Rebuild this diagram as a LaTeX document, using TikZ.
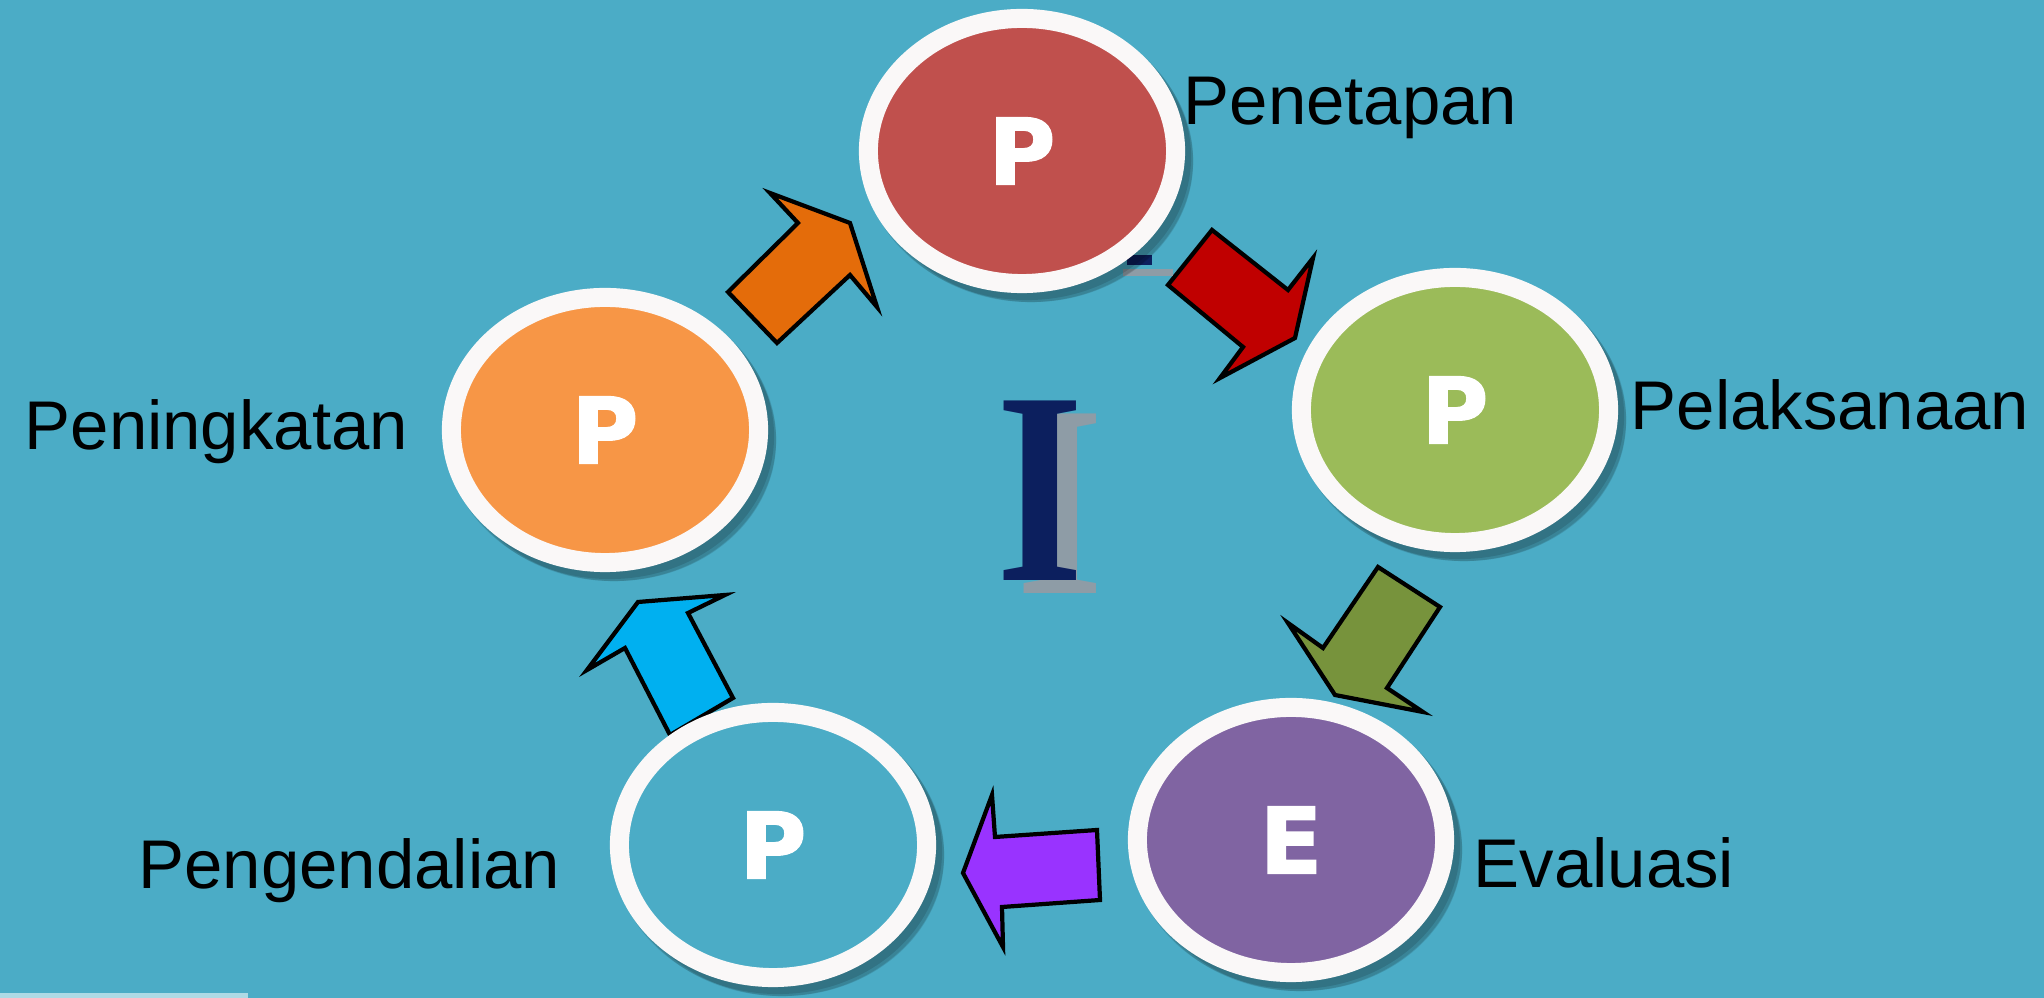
\documentclass[tikz,border=0pt]{standalone}
\usepackage{fontspec}
\setmainfont{Liberation Sans}
\newfontfamily\letterfont{DejaVu Sans}[BoldFeatures={FakeBold=1.6}]
\newfontfamily\seriffont{Liberation Serif}
\usetikzlibrary{shapes.geometric}
\definecolor{bgc}{HTML}{4BACC6}
\definecolor{ringc}{HTML}{FAF8F8}
\definecolor{redc}{HTML}{C0504D}
\definecolor{greenc}{HTML}{9BBB59}
\definecolor{purplec}{HTML}{8064A2}
\definecolor{orangec}{HTML}{F79646}
\definecolor{arrorange}{HTML}{E46C0A}
\definecolor{arrred}{HTML}{C00000}
\definecolor{arrgreen}{HTML}{77933C}
\definecolor{arrpurple}{HTML}{9933FF}
\definecolor{arrblue}{HTML}{00B0F0}
\definecolor{navyc}{HTML}{0C1F5E}
\definecolor{greyc}{HTML}{8E9CA6}
\tikzset{
  ringnode/.style={ellipse, minimum width=3.07cm, minimum height=2.65cm, inner sep=0pt,
    draw=ringc, line width=0.19cm, text=white,
    font=\letterfont\bfseries\fontsize{26pt}{26pt}\selectfont},
  shadowc/.style={fill=black, opacity=0.12},
  blockarrow/.style={draw=black, line width=1.2pt, line join=miter},
  label/.style={anchor=base west, inner sep=0pt, text=black,
    font=\fontsize{19.6pt}{23pt}\selectfont},
  bigI/.style={inner sep=0pt, font=\seriffont\bfseries\fontsize{78pt}{78pt}\selectfont}
}
\begin{document}
\begin{tikzpicture}[x=0.01cm,y=-0.01cm]
\fill[bgc] (0,0) rectangle (2044,998);
\useasboundingbox (0,0) rectangle (2044,998);
\fill[bgc!45!white] (0,993) rectangle (248,998);

% block arrows
\draw[blockarrow, fill=arrorange] (728,292) -- (798,223) -- (770,193) -- (850,223) -- (877,307) -- (850,275) -- (777,343) -- cycle;
\draw[blockarrow, fill=arrred] (1212,230) -- (1288,290) -- (1313,258) -- (1295,338) -- (1220,378) -- (1243,347) -- (1168,285) -- cycle;
\draw[blockarrow, fill=arrgreen] (1378,567) -- (1440,607) -- (1387,688) -- (1423,712) -- (1335,695) -- (1288,623) -- (1323,648) -- cycle;
\draw[blockarrow, fill=arrpurple] (1097,830) -- (1100,900) -- (1002,907) -- (1003,947) -- (963,873) -- (992,795) -- (995,837) -- cycle;
\draw[blockarrow, fill=arrblue] (733,698) -- (670,735) -- (625,648) -- (587,670) -- (638,602) -- (725,595) -- (688,613) -- cycle;

% small hidden I remnants near the top ellipse
\fill[greyc] (1123,269) rectangle (1173,276);
\fill[navyc] (1127,255) rectangle (1152,265);

% shadows
\foreach \cx/\cy in {1022/151, 1455/410, 1291/840, 773/845, 605/430} {
  \fill[shadowc] (\cx+5,\cy+6) ellipse [x radius=1.64cm, y radius=1.43cm];
  \fill[shadowc] (\cx+8,\cy+9) ellipse [x radius=1.63cm, y radius=1.42cm];
  \fill[shadowc] (\cx+10,\cy+11) ellipse [x radius=1.61cm, y radius=1.40cm];
}

% ellipses
\node[ringnode, fill=redc] (pen) at (1022,151) {P};
\node[ringnode, fill=greenc] (pel) at (1455,410) {P};
\node[ringnode, fill=purplec] (eva) at (1291,840) {E};
\node[ringnode, fill=bgc] (peng) at (773,845) {P};
\node[ringnode, fill=orangec] (peni) at (605,430) {P};

% labels
\node[label] (lpen) at (1183,125) {Penetapan};
\node[label] (lpel) at (1630,430) {Pelaksanaan};
\node[label] (leva) at (1473,888) {Evaluasi};
\node[label] (lpeng) at (138,889) {Pengendalian};
\node[label] (lpeni) at (24,450) {Peningkatan};

% central I with its shadow
\node[bigI, text=greyc] (ishadow) at (1060,504) {\scalebox{0.82}[1]{I}};
\node[bigI, text=navyc] (icenter) at (1040,491) {\scalebox{0.82}[1]{I}};
\end{tikzpicture}
\end{document}
